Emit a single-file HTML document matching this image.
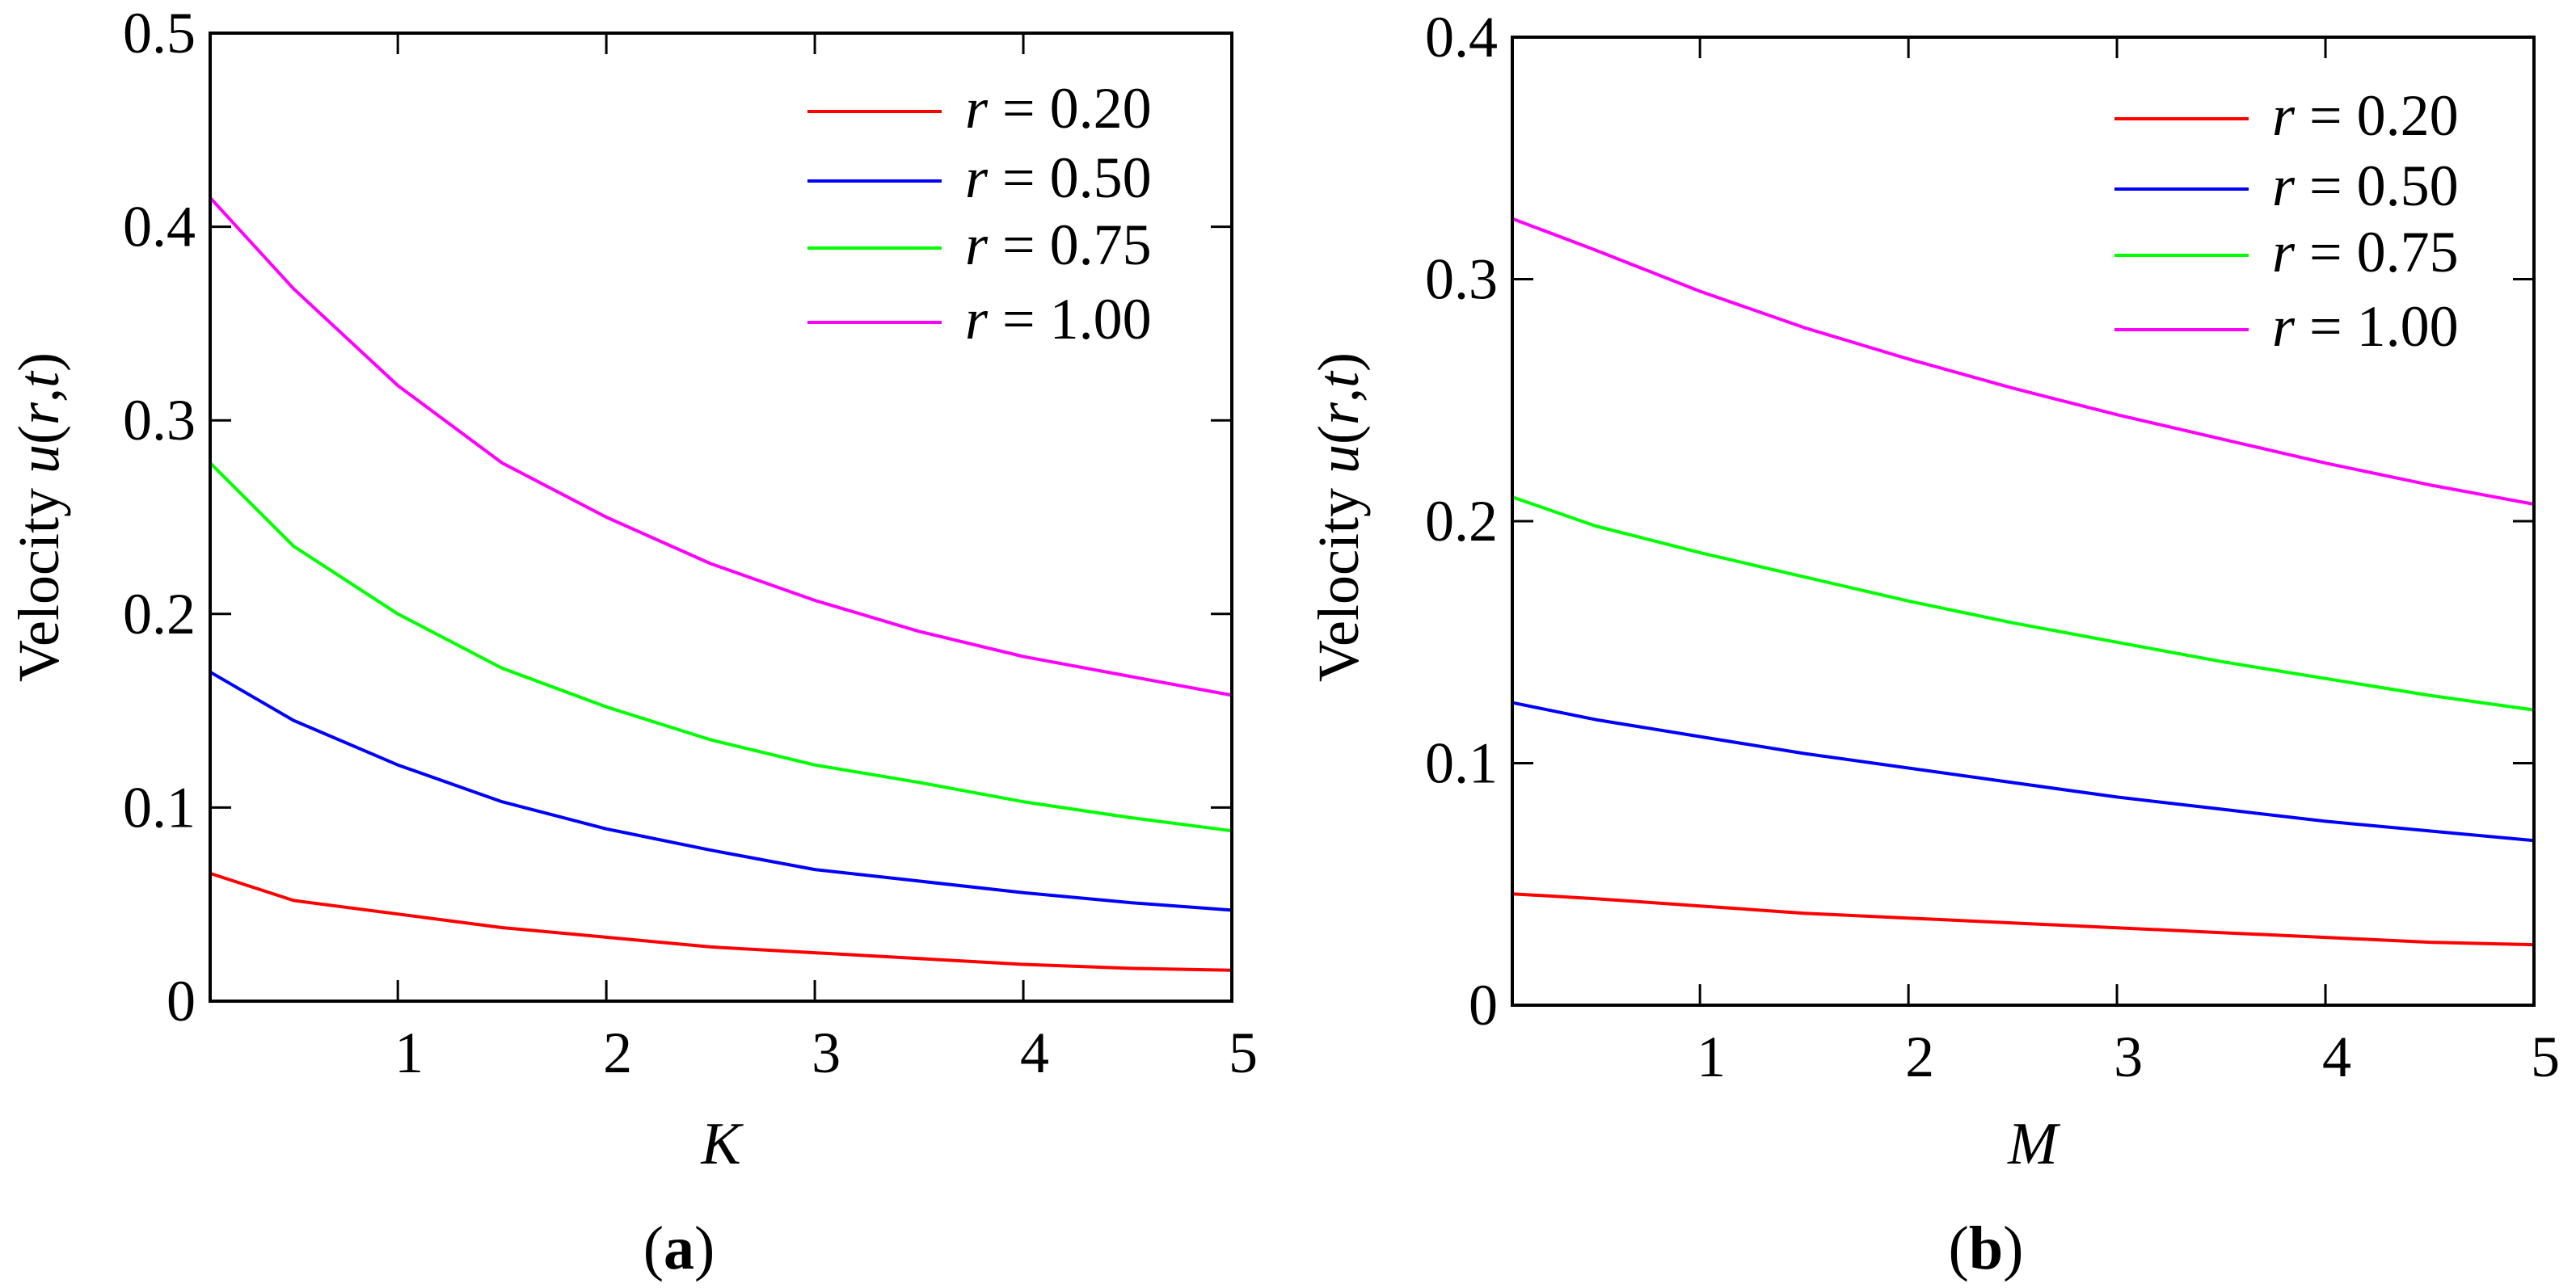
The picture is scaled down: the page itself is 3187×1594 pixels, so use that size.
<!DOCTYPE html>
<html><head><meta charset="utf-8">
<style>
html,body{margin:0;padding:0;background:#fff;}
svg{display:block;}
text{font-family:"Liberation Serif",serif;fill:#000;}
</style></head>
<body>
<svg id="fig" width="3187" height="1594" viewBox="0 0 3187 1594" xmlns="http://www.w3.org/2000/svg"></svg>
<script>
const xValues = [0.1, 0.5, 1, 1.5, 2, 2.5, 3, 3.5, 4, 4.5, 5];
const seriesLabels = ["r = 0.20", "r = 0.50", "r = 0.75", "r = 1.00"];
const seriesColors = ["#ff0000", "#0000ff", "#00ff00", "#ff00ff"];
const xTicks = [1, 2, 3, 4, 5];
const yTicksA = [0, 0.1, 0.2, 0.3, 0.4, 0.5];
const yTicksB = [0, 0.1, 0.2, 0.3, 0.4];
const aRed = [0.066, 0.052, 0.045, 0.038, 0.033, 0.028, 0.025, 0.022, 0.019, 0.017, 0.016];
const aBlue = [0.170, 0.145, 0.122, 0.103, 0.089, 0.078, 0.068, 0.062, 0.056, 0.051, 0.047];
const aGreen = [0.278, 0.235, 0.200, 0.172, 0.152, 0.135, 0.122, 0.113, 0.103, 0.095, 0.088];
const aMagenta = [0.415, 0.368, 0.318, 0.278, 0.250, 0.226, 0.207, 0.191, 0.178, 0.168, 0.158];
const bRed = [0.046, 0.044, 0.041, 0.038, 0.036, 0.034, 0.032, 0.030, 0.028, 0.026, 0.025];
const bBlue = [0.125, 0.118, 0.111, 0.104, 0.098, 0.092, 0.086, 0.081, 0.076, 0.072, 0.068];
const bGreen = [0.210, 0.198, 0.187, 0.177, 0.167, 0.158, 0.150, 0.142, 0.135, 0.128, 0.122];
const bMagenta = [0.325, 0.312, 0.295, 0.280, 0.267, 0.255, 0.244, 0.234, 0.224, 0.215, 0.207];

const NS = "http://www.w3.org/2000/svg";
const svg = document.getElementById("fig");
function mk(tag, attrs, parent) {
  const e = document.createElementNS(NS, tag);
  for (const k in attrs) e.setAttribute(k, attrs[k]);
  (parent || svg).appendChild(e);
  return e;
}

function panel(cfg) {
  const g = mk("g", {});
  
  
  const L = cfg.left, R = cfg.right, T = cfg.top, B = cfg.bottom;
  const xmin = 0.1, xmax = 5, ymax = cfg.ymax;
  const sx = v => L + (v - xmin) / (xmax - xmin) * (R - L);
  const sy = v => B - v / ymax * (B - T);

  cfg.series.forEach((vals, i) => {
    const d = vals.map((v, j) => (j ? "L" : "M") + sx(xValues[j]).toFixed(1) + " " + sy(v).toFixed(1)).join(" ");
    const p = mk("path", {d: d, fill: "none", stroke: seriesColors[i], "stroke-width": 4, "stroke-linejoin": "round"}, g);
    
    
  });

  const fr = mk("rect", {x: L, y: T, width: R - L, height: B - T, fill: "none", stroke: "#000", "stroke-width": 4}, g);
  
  

  xTicks.forEach(t => {
    const x = sx(t);
    mk("line", {x1: x, y1: B, x2: x, y2: B - 26, stroke: "#000", "stroke-width": 3}, g);
    mk("line", {x1: x, y1: T, x2: x, y2: T + 26, stroke: "#000", "stroke-width": 3}, g);
    const tl = mk("text", {x: x + 14, y: B + 88, "font-size": 72, "text-anchor": "middle"}, g);
    tl.textContent = t;
    
    
  });
  cfg.yTicks.forEach(t => {
    const y = sy(t);
    if (t > 0 && t < ymax) {
      mk("line", {x1: L, y1: y, x2: L + 26, y2: y, stroke: "#000", "stroke-width": 3}, g);
      mk("line", {x1: R, y1: y, x2: R - 26, y2: y, stroke: "#000", "stroke-width": 3}, g);
    }
    const tl = mk("text", {x: L - 18, y: y + 24, "font-size": 72, "text-anchor": "end"}, g);
    tl.textContent = t === 0 ? "0" : t.toFixed(1);
    
    
  });

  const xt = mk("text", {x: cfg.xTitleX, y: 1440, "font-size": 74, "font-style": "italic", "text-anchor": "middle"}, g);
  xt.textContent = cfg.xTitle;
  
  

  const yt = mk("text", {x: 0, y: 0, "font-size": 72, "text-anchor": "middle", transform: "translate(" + cfg.yTitleX + ",640) rotate(-90)"}, g);
  
  
  yt.innerHTML = 'Velocity <tspan font-style="italic">u</tspan>(<tspan font-style="italic">r</tspan>,<tspan font-style="italic">t</tspan>)';

  seriesLabels.forEach((lab, i) => {
    const le = mk("g", {}, g);
    
    
    const ly = cfg.legY[i];
    mk("line", {x1: cfg.legX, y1: ly, x2: cfg.legX + 166, y2: ly, stroke: seriesColors[i], "stroke-width": 4}, le);
    const t = mk("text", {x: cfg.legX + 195, y: ly + 20, "font-size": 72}, le);
    t.innerHTML = '<tspan font-style="italic">r</tspan> = ' + lab.split("= ")[1];
  });

  const cap = mk("text", {x: cfg.capX, y: 1570, "font-size": 76, "text-anchor": "middle"}, g);
  cap.innerHTML = '(<tspan font-weight="bold">' + cfg.cap + '</tspan>)';
  
  
}

panel({id: "panel-a", left: 260, right: 1524, top: 41, bottom: 1239, ymax: 0.5, yTicks: yTicksA,
  series: [aRed, aBlue, aGreen, aMagenta], xTitle: "K", xTitleX: 892, yTitleX: 72,
  legX: 999, legY: [138, 224, 307, 399], cap: "a", capX: 840});
panel({id: "panel-b", left: 1871, right: 3135, top: 46, bottom: 1244, ymax: 0.4, yTicks: yTicksB,
  series: [bRed, bBlue, bGreen, bMagenta], xTitle: "M", xTitleX: 2515, yTitleX: 1680,
  legX: 2616, legY: [147, 234, 316, 408], cap: "b", capX: 2457});
</script>
</body></html>
